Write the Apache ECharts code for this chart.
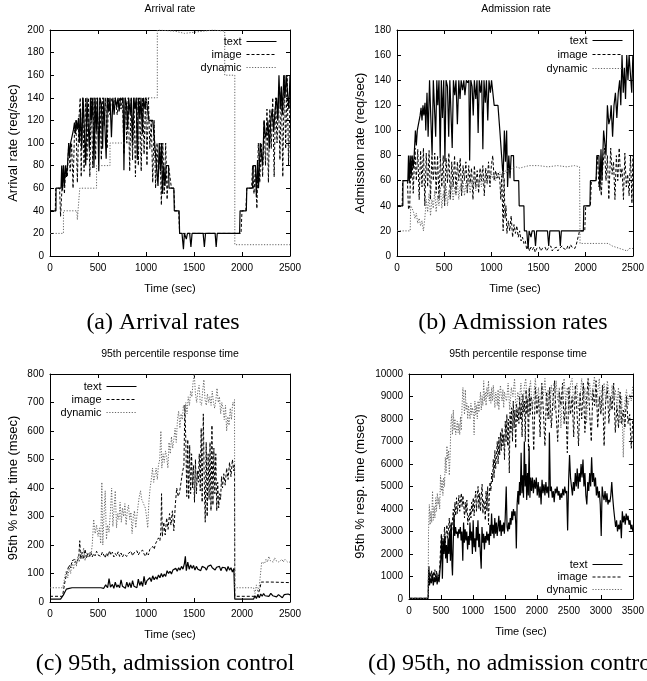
<!DOCTYPE html>
<html><head><meta charset="utf-8">
<script src="https://cdn.jsdelivr.net/npm/echarts@6/dist/echarts.min.js"></script>
<style>html,body{margin:0;padding:0;background:#fff}#c{width:647px;height:681px}</style>
</head><body><div id="c"></div>
<script>
const seriesNames = ['text', 'image', 'dynamic'];
const titles = ['Arrival rate', 'Admission rate', '95th percentile response time', '95th percentile response time'];
const yNames = ['Arrival rate (req/sec)', 'Admission rate (req/sec)', '95th % resp. time (msec)', '95th % resp. time (msec)'];
const captions = ['(a) Arrival rates', '(b) Admission rates', '(c) 95th, admission control', '(d) 95th, no admission control'];

// (a)/(b) text: arrival = admission (req/sec), [time sec, value]
const arrivalText = [[0,40],[62,40],[63,60],[115,60],[122,80],[130,58],[140,80],[150,62],[160,80],[172,70],[182,80],[195,100],[205,88],[215,100],[235,100],[245,112],[255,118],[265,108],[275,120],[285,112],[297,122],[305,100],[318,130],[330,95],[345,140],[360,140],[372,80],[385,140],[400,140],[410,95],[422,140],[432,120],[445,140],[458,78],[470,140],[482,110],[495,140],[508,75],[520,140],[535,135],[548,95],[560,140],[572,140],[585,86],[598,140],[612,128],[625,140],[640,105],[655,140],[668,125],[680,140],[695,132],[708,140],[720,128],[735,140],[750,138],[762,140],[770,76],[782,140],[796,135],[808,112],[820,140],[835,125],[848,140],[860,98],[872,140],[885,130],[898,140],[910,85],[922,140],[936,122],[948,140],[962,108],[975,140],[990,130],[1002,140],[1015,140],[1030,120],[1070,120],[1085,120],[1090,100],[1110,100],[1125,62],[1138,100],[1150,75],[1162,100],[1172,55],[1185,80],[1198,62],[1210,80],[1235,80],[1240,60],[1290,60],[1295,40],[1345,40],[1350,20],[1375,20],[1390,6],[1400,20],[1420,15],[1432,20],[1455,20],[1468,8],[1480,20],[1595,20],[1608,8],[1620,20],[1720,20],[1731,8],[1742,20],[1975,20],[1980,40],[2045,40],[2050,60],[2110,60],[2118,80],[2140,80],[2150,52],[2162,85],[2172,60],[2190,100],[2205,100],[2215,80],[2230,120],[2245,105],[2260,110],[2270,120],[2285,95],[2300,120],[2315,130],[2330,110],[2345,130],[2360,140],[2372,120],[2385,160],[2398,130],[2410,150],[2422,125],[2435,160],[2448,140],[2460,160],[2475,160],[2488,130],[2500,160]];
const arrivalImage = [[0,40],[55,40],[60,60],[100,60],[110,35],[125,60],[140,80],[150,55],[165,80],[180,70],[195,100],[210,75],[225,100],[240,60],[255,110],[270,120],[285,65],[300,120],[315,140],[325,70],[340,140],[355,75],[370,140],[385,85],[400,140],[415,70],[430,140],[445,78],[460,140],[475,85],[490,140],[505,100],[520,140],[535,85],[550,140],[565,115],[580,140],[595,95],[610,140],[625,125],[640,140],[660,135],[680,140],[700,125],[720,140],[740,130],[755,140],[770,90],[785,140],[800,100],[815,140],[830,75],[845,140],[860,85],[875,140],[890,70],[905,140],[920,80],[935,140],[950,75],[965,140],[980,90],[995,140],[1010,80],[1025,140],[1040,95],[1055,120],[1070,65],[1085,120],[1100,60],[1115,100],[1130,70],[1145,100],[1160,45],[1175,100],[1190,55],[1205,100],[1220,50],[1235,80],[1250,80],[1265,60],[1290,60],[1300,40],[1340,40],[1350,20],[1990,20],[2000,40],[2040,40],[2050,60],[2100,60],[2110,80],[2125,55],[2140,80],[2155,42],[2170,100],[2185,65],[2200,100],[2215,70],[2230,120],[2245,80],[2260,130],[2275,65],[2290,130],[2305,95],[2320,140],[2335,70],[2350,140],[2365,100],[2380,140],[2395,85],[2410,150],[2425,70],[2440,160],[2455,95],[2470,160],[2485,80],[2500,140]];
const arrivalDynamic = [[0,20],[140,20],[140,40],[280,40],[285,32],[292,40],[310,40],[310,60],[485,60],[485,80],[625,80],[625,100],[1005,100],[1005,140],[1118,140],[1118,200],[1300,199],[1400,197],[1500,198],[1600,199],[1700,200],[1820,199],[1820,160],[1925,160],[1925,10],[2500,10]];

// (b) admission rates
const admitImage = [[0,40],[55,40],[60,60],[110,60],[122,37],[135,40],[145,70],[160,80],[172,50],[190,86],[205,60],[220,85],[235,45],[250,84],[265,55],[280,86],[295,40],[310,82],[325,55],[340,84],[355,45],[370,80],[385,60],[400,82],[415,50],[430,80],[445,45],[460,78],[475,55],[490,80],[505,40],[520,78],[535,58],[550,82],[565,45],[580,75],[595,55],[610,80],[625,50],[640,75],[655,60],[670,78],[685,48],[700,72],[715,60],[730,75],[745,50],[760,72],[775,58],[790,70],[805,45],[820,72],[835,55],[850,68],[865,50],[880,70],[895,60],[910,72],[925,48],[940,70],[955,58],[970,75],[985,55],[1000,72],[1015,80],[1030,60],[1045,68],[1060,62],[1075,66],[1090,60],[1100,45],[1110,64],[1125,20],[1135,62],[1145,30],[1155,40],[1165,18],[1180,28],[1195,20],[1210,32],[1225,15],[1240,25],[1255,18],[1270,24],[1285,15],[1300,20],[1315,12],[1330,15],[1345,10],[1360,12],[1375,5],[1390,8],[1405,4],[1420,7],[1435,5],[1450,7],[1465,3],[1480,6],[1495,5],[1510,7],[1525,4],[1540,6],[1555,5],[1570,7],[1585,4],[1600,6],[1615,5],[1630,8],[1645,4],[1660,6],[1675,5],[1690,7],[1705,4],[1720,6],[1735,5],[1750,8],[1765,6],[1780,7],[1795,5],[1810,8],[1825,6],[1840,9],[1855,7],[1870,8],[1885,6],[1900,9],[1920,8],[1935,20],[1990,20],[2000,40],[2050,40],[2060,60],[2110,60],[2125,80],[2140,55],[2155,65],[2165,48],[2180,70],[2200,86],[2215,60],[2230,80],[2245,45],[2265,86],[2280,65],[2295,75],[2310,45],[2325,80],[2340,60],[2355,86],[2370,62],[2385,70],[2400,45],[2415,82],[2430,55],[2445,65],[2460,48],[2475,80],[2490,42],[2500,80]];
const admitDynamic = [[0,20],[140,20],[145,40],[160,38],[175,35],[190,30],[205,34],[220,26],[235,30],[250,24],[265,28],[280,20],[295,30],[310,45],[325,35],[340,50],[355,32],[370,45],[385,38],[400,52],[415,35],[430,48],[445,40],[460,55],[475,38],[490,50],[505,42],[520,56],[535,40],[550,52],[565,45],[580,58],[595,44],[610,55],[625,48],[640,60],[655,45],[670,56],[685,50],[700,60],[715,48],[730,58],[745,52],[760,62],[775,50],[790,60],[805,55],[820,63],[835,52],[850,62],[865,56],[880,64],[895,55],[910,62],[925,58],[940,65],[955,57],[970,64],[985,60],[1000,66],[1015,62],[1030,65],[1045,60],[1060,66],[1075,62],[1090,67],[1105,64],[1120,68],[1135,65],[1150,68],[1165,66],[1180,70],[1200,68],[1220,70],[1240,69],[1260,71],[1300,70],[1350,71],[1400,72],[1500,72],[1600,71],[1700,72],[1800,71],[1880,72],[1935,71],[1940,10],[2000,10],[2100,10],[2200,10],[2240,10],[2260,9],[2280,8],[2300,9],[2320,7],[2340,8],[2360,6],[2380,7],[2400,5],[2420,6],[2440,4],[2460,6],[2480,5],[2500,6]];

// (c) 95th percentile response time with admission control (msec)
const rtText = [[0,10],[110,10],[125,15],[140,25],[155,35],[170,45],[185,40],[200,48],[215,42],[230,50],[245,45],[260,50],[275,44],[290,50],[305,46],[320,50],[530,50],[545,56],[560,48],[580,60],[600,50],[615,82],[630,52],[650,62],[665,48],[680,70],[695,52],[710,60],[725,50],[740,78],[755,55],[770,62],[785,48],[800,70],[815,52],[830,68],[845,50],[860,75],[875,55],[890,62],[905,50],[920,80],[935,58],[950,72],[965,55],[980,90],[995,60],[1010,75],[1025,68],[1040,85],[1055,72],[1070,92],[1085,78],[1100,88],[1115,80],[1130,95],[1145,85],[1160,100],[1175,88],[1190,98],[1205,90],[1220,110],[1235,100],[1250,108],[1265,98],[1280,112],[1295,105],[1310,118],[1325,108],[1340,120],[1355,112],[1370,125],[1385,115],[1400,135],[1410,160],[1420,110],[1435,140],[1450,115],[1465,130],[1480,118],[1495,128],[1510,112],[1525,125],[1540,115],[1555,122],[1570,110],[1585,125],[1600,118],[1615,120],[1630,112],[1645,125],[1660,118],[1675,130],[1690,120],[1705,125],[1720,112],[1735,122],[1750,115],[1765,125],[1780,110],[1795,122],[1810,115],[1825,120],[1840,108],[1855,125],[1870,112],[1885,120],[1900,105],[1915,118],[1925,10],[2120,10],[2135,22],[2150,12],[2165,25],[2180,15],[2195,28],[2210,20],[2225,30],[2240,22],[2260,28],[2280,20],[2300,30],[2320,22],[2340,28],[2360,18],[2380,26],[2400,20],[2420,15],[2440,26],[2460,20],[2480,28],[2500,25]];
const rtImage = [[0,20],[130,20],[140,40],[155,70],[170,95],[185,115],[200,130],[215,120],[230,145],[245,138],[260,150],[275,135],[290,148],[300,160],[310,215],[320,150],[335,175],[350,150],[365,185],[380,155],[395,170],[410,160],[425,175],[440,158],[455,170],[470,162],[485,178],[500,165],[515,172],[530,160],[545,175],[560,168],[575,155],[590,172],[605,160],[620,180],[635,165],[650,175],[665,158],[680,170],[695,162],[710,176],[725,160],[740,172],[755,158],[770,168],[785,175],[800,160],[815,170],[830,165],[845,178],[860,162],[875,172],[890,168],[905,180],[920,165],[935,175],[950,170],[965,182],[980,168],[995,160],[1010,175],[1025,165],[1040,185],[1055,178],[1070,195],[1085,185],[1100,205],[1115,200],[1130,225],[1145,215],[1155,250],[1162,380],[1170,230],[1185,280],[1200,235],[1215,295],[1230,255],[1245,310],[1260,270],[1275,320],[1290,250],[1305,340],[1320,400],[1335,370],[1350,385],[1365,420],[1380,455],[1395,480],[1405,690],[1415,560],[1425,370],[1435,570],[1445,360],[1455,550],[1465,380],[1475,520],[1485,400],[1495,480],[1505,350],[1515,500],[1525,380],[1535,460],[1545,420],[1555,520],[1565,390],[1575,610],[1585,350],[1597,660],[1607,420],[1617,280],[1627,560],[1637,300],[1647,520],[1657,360],[1667,560],[1677,320],[1687,620],[1697,340],[1707,540],[1717,380],[1727,520],[1737,320],[1747,420],[1757,330],[1767,380],[1777,360],[1787,440],[1797,400],[1810,450],[1825,410],[1840,470],[1855,430],[1870,490],[1885,440],[1900,500],[1915,460],[1922,480],[1925,20],[2160,20],[2170,30],[2185,45],[2200,70],[2300,70],[2400,69],[2500,68]];
const rtDynamic = [[0,50],[130,50],[140,60],[155,90],[170,110],[185,85],[200,120],[215,100],[230,140],[245,115],[260,150],[275,125],[290,160],[305,140],[320,180],[335,150],[350,190],[365,145],[380,170],[395,155],[410,175],[425,160],[440,200],[455,290],[470,240],[485,270],[500,230],[515,260],[528,205],[540,420],[550,200],[562,300],[575,390],[588,220],[600,270],[615,245],[630,320],[642,400],[655,265],[668,330],[680,390],[693,260],[705,310],[718,290],[730,350],[743,280],[755,330],[768,300],[780,345],[793,270],[805,320],[818,340],[830,290],[843,315],[855,240],[868,300],[880,320],[893,260],[905,300],[918,340],[930,370],[943,390],[955,360],[968,350],[980,340],[993,330],[1005,300],[1018,260],[1030,350],[1043,400],[1055,430],[1068,470],[1080,420],[1093,445],[1105,470],[1118,430],[1130,480],[1143,500],[1155,600],[1165,470],[1178,520],[1190,490],[1203,530],[1215,510],[1228,470],[1240,560],[1253,520],[1265,580],[1278,540],[1290,570],[1303,610],[1315,560],[1328,640],[1340,670],[1353,610],[1365,660],[1378,640],[1390,690],[1403,670],[1415,700],[1428,660],[1440,720],[1453,690],[1465,740],[1478,720],[1490,770],[1503,800],[1515,730],[1528,700],[1540,740],[1553,760],[1565,700],[1578,690],[1590,740],[1603,780],[1615,710],[1628,690],[1640,730],[1653,700],[1665,720],[1678,690],[1690,740],[1703,700],[1715,680],[1728,710],[1740,750],[1753,700],[1765,720],[1778,660],[1790,700],[1803,680],[1815,640],[1828,690],[1840,600],[1853,650],[1865,620],[1878,680],[1890,640],[1903,700],[1915,690],[1922,710],[1925,50],[2120,50],[2135,30],[2150,60],[2165,35],[2180,55],[2195,60],[2205,140],[2220,145],[2235,135],[2250,150],[2265,140],[2280,160],[2295,145],[2310,150],[2325,140],[2340,155],[2355,145],[2370,150],[2385,140],[2400,145],[2415,150],[2430,140],[2445,150],[2460,145],[2475,140],[2490,135],[2500,140]];

// (d) 95th percentile response time without admission control (msec)
const nacText = [[0,30],[300,30],[305,900],[312,1450],[320,600],[335,900],[350,700],[365,1100],[380,600],[395,950],[410,750],[425,1050],[440,650],[455,1000],[470,750],[485,1300],[498,1800],[510,2800],[522,900],[535,2600],[548,2000],[560,2800],[573,1800],[585,2400],[598,1600],[610,2700],[623,2000],[635,3000],[648,1700],[660,3400],[672,1500],[680,1050],[692,2500],[703,3700],[715,2800],[728,3200],[740,2900],[753,3000],[765,2700],[778,3100],[790,2900],[803,3200],[815,2600],[828,3000],[841,1700],[853,3400],[866,2500],[878,3100],[891,2600],[903,3000],[916,2200],[928,2800],[941,2400],[953,3400],[966,2600],[978,3000],[991,2000],[1003,3500],[1016,2300],[1028,2700],[1041,2100],[1053,3200],[1066,2600],[1078,3500],[1091,2300],[1103,2900],[1116,2000],[1129,1350],[1141,3200],[1154,2500],[1166,2900],[1179,2200],[1191,2800],[1204,2500],[1216,3000],[1229,2600],[1241,2900],[1254,2400],[1266,3300],[1279,2800],[1291,3800],[1304,2900],[1316,3300],[1329,2700],[1341,3600],[1354,2900],[1366,3400],[1379,2800],[1391,3200],[1404,3700],[1416,3000],[1429,3500],[1441,2800],[1454,3300],[1466,3000],[1479,3400],[1491,2900],[1504,3600],[1520,5000],[1533,3200],[1545,3000],[1558,3400],[1570,3100],[1583,3600],[1595,3300],[1608,3900],[1620,3500],[1633,4000],[1645,3700],[1658,3900],[1670,3300],[1678,2250],[1690,4200],[1703,4800],[1715,4200],[1728,5200],[1740,4600],[1753,6500],[1765,4700],[1778,5500],[1790,4500],[1803,7000],[1815,5000],[1828,6000],[1840,4400],[1853,5600],[1865,4600],[1878,6800],[1890,4500],[1903,5400],[1916,4800],[1930,5400],[1945,4700],[1960,5300],[1975,4900],[1990,5400],[2005,4600],[2020,5200],[2035,4500],[2050,5000],[2065,4200],[2080,5300],[2095,4700],[2110,5100],[2125,4600],[2140,5200],[2155,4700],[2170,5000],[2185,4500],[2195,7400],[2210,4800],[2225,5000],[2240,4500],[2255,4800],[2270,4300],[2285,4900],[2300,4700],[2315,5000],[2330,4600],[2345,4800],[2360,4400],[2375,4700],[2390,4500],[2405,4900],[2420,4600],[2435,5000],[2450,4700],[2465,4800],[2480,3050],[2495,5200],[2510,6400],[2525,5400],[2540,5000],[2555,4600],[2570,5200],[2585,4800],[2600,5600],[2615,5000],[2630,5800],[2645,4900],[2660,5600],[2675,5200],[2690,6000],[2705,5400],[2720,6200],[2735,5000],[2750,5600],[2765,4600],[2780,4200],[2795,5200],[2810,4800],[2825,5600],[2840,5000],[2855,6300],[2870,5200],[2885,5600],[2900,5000],[2915,5400],[2930,4600],[2945,5000],[2960,4500],[2975,4800],[2990,4200],[3005,2800],[3020,5000],[3035,4600],[3050,4400],[3065,4800],[3080,4300],[3095,4700],[3110,4200],[3125,4400],[3140,4300],[3155,4600],[3170,5200],[3185,4500],[3200,4000],[3215,3600],[3230,3200],[3245,3500],[3260,3000],[3275,3300],[3290,3100],[3305,3500],[3320,2700],[3335,3900],[3350,3400],[3365,3700],[3380,3300],[3395,3800],[3410,3500],[3425,3700],[3440,3300],[3455,3500],[3470,3100],[3485,3300],[3500,3000]];
const nacImage = [[0,30],[300,30],[305,1300],[318,900],[330,1200],[343,800],[355,1250],[368,850],[380,1200],[393,900],[405,1300],[418,850],[430,1250],[443,900],[455,1150],[468,1000],[480,1400],[493,2200],[505,2900],[518,2000],[530,2700],[543,2300],[555,3200],[568,2500],[580,2900],[593,3300],[605,2700],[618,3100],[630,3600],[643,2800],[655,3300],[668,3000],[680,3500],[693,4000],[705,3400],[718,4300],[730,3700],[743,4500],[755,3800],[768,4200],[780,4600],[793,3900],[805,4400],[818,4700],[830,4100],[843,4600],[855,4200],[868,3600],[880,4300],[893,3800],[905,4400],[918,3300],[930,3700],[943,3500],[955,4000],[968,3600],[980,4300],[993,3900],[1005,4500],[1018,3700],[1030,4400],[1043,4800],[1055,3900],[1068,4600],[1080,5000],[1093,4000],[1105,4700],[1118,3900],[1130,4600],[1143,5100],[1155,3800],[1168,4400],[1180,4200],[1193,3500],[1205,4800],[1218,3900],[1230,5000],[1243,3300],[1255,4600],[1268,5200],[1280,4800],[1293,5600],[1305,5200],[1318,6200],[1330,5400],[1343,6600],[1355,5800],[1368,6400],[1380,7000],[1393,6000],[1405,7200],[1418,6400],[1430,7400],[1443,6600],[1455,7600],[1468,6800],[1480,7300],[1493,6200],[1505,7900],[1518,7000],[1530,8200],[1543,6800],[1555,8000],[1568,5600],[1580,8300],[1593,7400],[1605,8500],[1618,7000],[1630,8800],[1643,7600],[1655,8400],[1668,6700],[1680,8700],[1693,7900],[1705,8500],[1718,7800],[1730,9000],[1743,8000],[1755,8700],[1768,7200],[1780,9100],[1793,8300],[1805,8800],[1818,7000],[1830,9300],[1843,8200],[1855,8900],[1868,6600],[1880,9400],[1893,8200],[1905,9000],[1925,8800],[1950,6600],[1975,9400],[2000,8200],[2025,9000],[2050,7200],[2075,9600],[2100,8400],[2125,6800],[2150,9200],[2175,8000],[2200,9400],[2225,7600],[2250,8800],[2275,9700],[2300,8200],[2325,7000],[2350,9200],[2375,8600],[2400,9600],[2425,7800],[2450,8800],[2475,6500],[2500,9400],[2525,8200],[2550,9000],[2575,7200],[2600,9500],[2625,8400],[2650,6800],[2675,9200],[2700,8000],[2725,9600],[2750,7400],[2775,8800],[2800,9800],[2825,8200],[2850,7000],[2875,9300],[2900,8600],[2925,9700],[2950,7600],[2975,9000],[3000,8200],[3025,9500],[3050,6800],[3075,8800],[3100,9400],[3125,7800],[3150,9000],[3175,8400],[3200,9600],[3225,7400],[3250,8600],[3275,7600],[3300,9200],[3325,7800],[3350,8400],[3375,7600],[3400,9000],[3425,7800],[3450,8200],[3475,6700],[3500,8000]];
const nacDynamic = [[0,30],[300,30],[305,3000],[318,4200],[330,3300],[343,3900],[355,3400],[368,4800],[380,3500],[393,4100],[405,3600],[418,4500],[430,3900],[443,4700],[455,4200],[468,4500],[480,4000],[493,5500],[505,4800],[518,5300],[530,4600],[543,5400],[555,5000],[568,6300],[580,5600],[593,6800],[605,6200],[618,6600],[630,5500],[643,6400],[655,7800],[668,8200],[680,7300],[693,8400],[705,7500],[718,8000],[730,7300],[743,7600],[755,7900],[768,7400],[780,7800],[793,7300],[805,8100],[818,7500],[830,8600],[843,9400],[855,8800],[868,8200],[880,9300],[893,8400],[905,8700],[918,8000],[930,8600],[943,8300],[955,8000],[968,8700],[980,8200],[993,8500],[1005,8300],[1018,7300],[1030,8800],[1043,8200],[1055,8600],[1068,8000],[1080,8800],[1093,8300],[1105,8700],[1118,9200],[1130,8400],[1143,9000],[1155,8600],[1168,9700],[1180,8800],[1193,9200],[1205,8600],[1218,9400],[1230,9000],[1243,9700],[1255,8800],[1268,9200],[1280,8700],[1293,9400],[1305,8800],[1318,9500],[1330,9000],[1343,8500],[1355,9200],[1368,9000],[1380,8600],[1393,9300],[1405,8400],[1418,9100],[1430,9500],[1443,9000],[1455,8800],[1468,9300],[1480,8500],[1493,9200],[1505,9000],[1525,8800],[1550,9600],[1575,8400],[1600,9400],[1625,9000],[1650,9800],[1675,8200],[1700,9200],[1725,8800],[1750,9600],[1775,8000],[1800,9400],[1825,9800],[1850,8600],[1875,9200],[1900,9700],[1925,8400],[1950,9000],[1975,9800],[2000,8800],[2025,9400],[2050,8200],[2075,9600],[2100,9000],[2125,9800],[2150,8600],[2175,9300],[2200,8000],[2225,9500],[2250,9000],[2275,8400],[2300,9700],[2325,8800],[2350,9400],[2375,7600],[2400,9200],[2425,9800],[2450,8800],[2475,9400],[2500,8200],[2525,9600],[2550,9800],[2575,8600],[2600,9200],[2625,9600],[2650,8400],[2675,9000],[2700,9800],[2725,8800],[2750,9400],[2775,7800],[2800,9200],[2825,9600],[2850,8800],[2875,9400],[2900,9900],[2925,8600],[2950,9200],[2975,9800],[3000,8400],[3025,9000],[3050,9600],[3075,8800],[3100,9700],[3125,9200],[3150,8400],[3175,9500],[3200,8800],[3225,9300],[3250,8600],[3275,9400],[3300,7800],[3325,9000],[3350,6300],[3375,8800],[3400,9300],[3425,8600],[3450,9100],[3475,8800],[3500,9500]];

const panelData = [
  [arrivalText, arrivalImage, arrivalDynamic],
  [arrivalText, admitImage, admitDynamic],
  [rtText, rtImage, rtDynamic],
  [nacText, nacImage, nacDynamic]
];
const xMaxes = [2500, 2500, 2500, 3500];
const yMaxes = [200, 180, 800, 10000];
const yIntervals = [20, 20, 100, 1000];

// layout (pixels)
const layout = [
  {left:50, top:30, width:240, height:226, tx:170, ty:4, yGap:30, lg:{right:370, top:36, gap:2, lh:10}, cap:{x:163, y:311}},
  {left:397, top:30, width:239, height:226, tx:516, ty:4, yGap:30, lg:{right:24, top:35, gap:3, lh:10}, cap:{x:513, y:311}},
  {left:50, top:374, width:240, height:228, tx:170, ty:349, yGap:30, lg:{right:510, top:381, gap:2, lh:10}, cap:{x:165, y:652}},
  {left:409, top:374, width:228, height:225, tx:518, ty:349, yGap:42, lg:{right:24, top:559, gap:1.5, lh:10}, cap:{x:513, y:652}}
];
const FONT = '"Liberation Sans", Arial, Helvetica, sans-serif';
const SERIF = '"Liberation Serif", "Times New Roman", serif';
const lineStyles = [
  {color:'#000', width:1.2, type:'solid'},
  {color:'#000', width:1, type:[3, 2]},
  {color:'#666', width:1, type:[1.2, 1.6]}
];

const grid = [], xAxis = [], yAxis = [], series = [], title = [], legend = [];
const tick = {show:true, inside:true, length:4, lineStyle:{color:'#000', width:1}};
const axLine = {show:true, onZero:false, lineStyle:{color:'#000', width:1}};
const plain = v => String(v);
layout.forEach((L, i) => {
  grid.push({left:L.left, top:L.top, width:L.width, height:L.height, containLabel:false});
  xAxis.push({type:'value', gridIndex:i, position:'bottom', min:0, max:xMaxes[i], interval:500,
    axisLine:axLine, axisTick:tick, splitLine:{show:false},
    axisLabel:{color:'#000', fontFamily:FONT, fontSize:10, margin:7, formatter:plain},
    name:'Time (sec)', nameLocation:'middle', nameGap:27,
    nameTextStyle:{color:'#000', fontFamily:FONT, fontSize:11}});
  xAxis.push({type:'value', gridIndex:i, position:'top', min:0, max:xMaxes[i], interval:500,
    axisLine:axLine, axisTick:tick, splitLine:{show:false}, axisLabel:{show:false}});
  yAxis.push({type:'value', gridIndex:i, position:'left', min:0, max:yMaxes[i], interval:yIntervals[i],
    axisLine:axLine, axisTick:tick, splitLine:{show:false},
    axisLabel:{color:'#000', fontFamily:FONT, fontSize:10, margin:6, formatter:plain},
    name:yNames[i], nameLocation:'middle', nameGap:L.yGap,
    nameTextStyle:{color:'#000', fontFamily:FONT, fontSize:13}});
  yAxis.push({type:'value', gridIndex:i, position:'right', min:0, max:yMaxes[i], interval:yIntervals[i],
    axisLine:axLine, axisTick:tick, splitLine:{show:false}, axisLabel:{show:false}});
  title.push({text:titles[i], left:L.tx, top:L.ty, textAlign:'center', padding:0,
    textStyle:{color:'#000', fontFamily:FONT, fontSize:10.5, fontWeight:'normal'}});
  title.push({text:captions[i], left:L.cap.x, top:L.cap.y, textAlign:'center', padding:0,
    textStyle:{color:'#000', fontFamily:SERIF, fontSize:24, fontWeight:'normal'}});
  legend.push({data:seriesNames, orient:'vertical', align:'right', right:L.lg.right, top:L.lg.top,
    itemWidth:30, itemHeight:8, itemGap:L.lg.gap, padding:0, selectedMode:false,
    itemStyle:{color:'transparent', borderColor:'transparent', borderWidth:0, opacity:0},
    lineStyle:{width:1},
    textStyle:{color:'#000', fontFamily:FONT, fontSize:11, lineHeight:L.lg.lh, padding:[0,0,0,0]}});
  panelData[i].forEach((d, k) => {
    series.push({type:'line', name:seriesNames[k], xAxisIndex:2*i, yAxisIndex:2*i, data:d,
      symbol:'none', showSymbol:false, smooth:false, animation:false, silent:true,
      lineStyle:lineStyles[k], itemStyle:{color:lineStyles[k].color}, z:2+k});
  });
});

const chart = echarts.init(document.getElementById('c'), null, {renderer:'canvas'});
chart.setOption({backgroundColor:'#fff', animation:false, title, legend, grid, xAxis, yAxis, series});
</script>
</body></html>
